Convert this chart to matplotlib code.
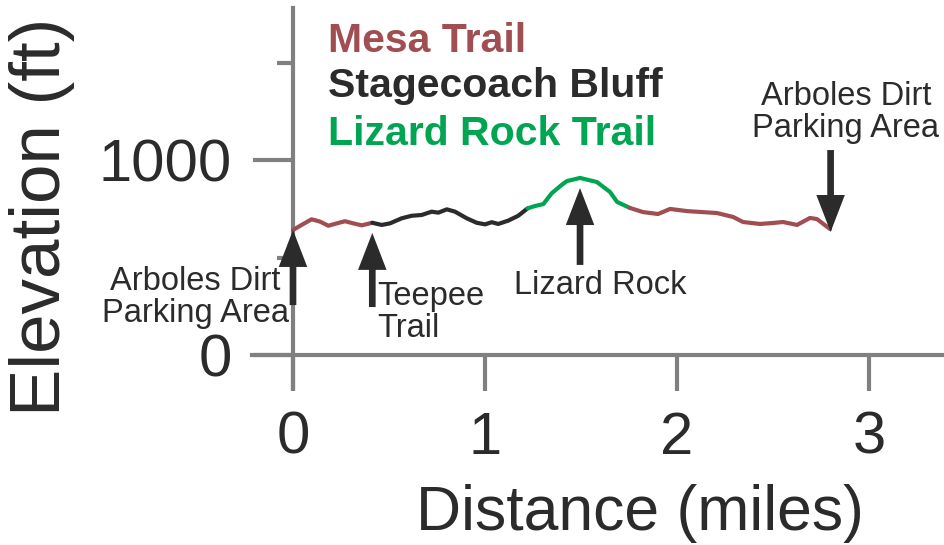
import matplotlib
matplotlib.use("Agg")
import matplotlib.pyplot as plt
from matplotlib.ticker import FixedLocator

plt.rcParams['font.family'] = ['Liberation Sans', 'DejaVu Sans']

# ---------------- data (distance in miles, elevation in ft) ----------------
mesa1_x = [0.00, 0.045, 0.097, 0.141, 0.184, 0.228, 0.271, 0.314, 0.358, 0.413]
mesa1_y = [641, 667, 696, 684, 663, 675, 686, 675, 665, 678]

stage_x = [0.413, 0.462, 0.505, 0.566, 0.618, 0.670, 0.722, 0.757, 0.801, 0.844,
           0.905, 0.957, 1.000, 1.035, 1.069, 1.121, 1.173, 1.222]
stage_y = [678, 667, 675, 701, 714, 718, 735, 730, 747, 735,
           701, 678, 670, 681, 672, 689, 714, 752]

lizard_x = [1.222, 1.260, 1.304, 1.347, 1.399, 1.427, 1.495, 1.583, 1.651, 1.688, 1.755]
lizard_y = [752, 764, 774, 829, 872, 892, 908, 887, 836, 785, 754]

mesa2_x = [1.755, 1.823, 1.901, 1.964, 2.052, 2.208, 2.292, 2.344, 2.432, 2.500,
           2.552, 2.625, 2.693, 2.729, 2.797]
mesa2_y = [754, 733, 723, 749, 738, 728, 708, 682, 672, 677,
           682, 667, 703, 697, 646]

x_ticks = [0, 1, 2, 3]
y_ticks = [0, 1000]
y_minor = [500, 1500]

legend_labels = ["Mesa Trail", "Stagecoach Bluff", "Lizard Rock Trail"]

# annotations: (text, text position of last-line baseline, arrow tail, arrow tip)
ann_texts = ["Arboles Dirt\nParking Area", "Teepee\nTrail", "Lizard Rock",
             "Arboles Dirt\nParking Area"]
ann_text_xy = [(-0.51, 169), (0.4375, 92), (1.599, 313), (2.88, 1118)]
ann_tail = [(0.0, 256), (0.413, 246), (1.495, 462), (2.80, 1051)]
ann_tip = [(0.0, 641), (0.413, 626), (1.495, 856), (2.80, 631)]
ann_ha = ["center", "left", "center", "center"]

# ---------------- styling ----------------
MESA = "#a04e52"
STAGE = "#2b2b2b"
LIZ = "#00a551"
AXC = "#808080"
TXT = "#2b2b2b"

fig = plt.figure(figsize=(9.45, 5.45), dpi=100)
W, H = 945, 545
ax = fig.add_axes([252 / W, 1 - 388 / H, (945 - 252) / W, (388 - 8) / H])

ax.set_xlim((252 - 293) / 192, (945 - 293) / 192)
ax.set_ylim((355 - 388) / 0.195, (355 - 8) / 0.195)

for s in ["top", "right"]:
    ax.spines[s].set_visible(False)
for s in ["left", "bottom"]:
    ax.spines[s].set_position(("data", 0))
    ax.spines[s].set_color(AXC)
    ax.spines[s].set_linewidth(3)

ax.xaxis.set_major_locator(FixedLocator(x_ticks))
ax.yaxis.set_major_locator(FixedLocator(y_ticks))
ax.yaxis.set_minor_locator(FixedLocator(y_minor))
ax.set_xticklabels([str(v) for v in x_ticks])
ax.set_yticklabels([str(v) for v in y_ticks])

ax.tick_params(axis="x", which="major", direction="out", length=26, width=3,
               color=AXC, labelsize=43, labelcolor=TXT, pad=14)
ax.tick_params(axis="y", which="major", direction="out", length=29, width=3,
               color=AXC, labelsize=43, labelcolor=TXT, pad=15)
ax.tick_params(axis="y", which="minor", direction="out", length=11.5, width=3,
               color=AXC)

for xs, ys, c in [(mesa1_x, mesa1_y, MESA), (stage_x, stage_y, STAGE),
                  (lizard_x, lizard_y, LIZ), (mesa2_x, mesa2_y, MESA)]:
    ax.plot(xs, ys, color=c, lw=3, solid_capstyle="round",
            solid_joinstyle="round", zorder=3)

# legend as coloured text
leg_colors = [MESA, STAGE, LIZ]
leg_y = [1554, 1323, 1077]
for lab, c, yy in zip(legend_labels, leg_colors, leg_y):
    ax.text(0.182, yy, lab, color=c, fontsize=29.5, fontweight="bold",
            ha="left", va="baseline")

# annotations with arrows
for t, txy, tail, tip, ha in zip(ann_texts, ann_text_xy, ann_tail, ann_tip, ann_ha):
    ax.annotate("", xy=tip, xytext=tail,
                arrowprops=dict(arrowstyle="simple,head_length=2.66,head_width=2.05,tail_width=0.48",
                                mutation_scale=10, color=STAGE, lw=0,
                                shrinkA=0, shrinkB=0), zorder=4)
    ax.text(txy[0], txy[1], t, fontsize=23.5, color=TXT, ha=ha, va="baseline",
            linespacing=1.05, multialignment="center" if ha == "center" else "left",
            zorder=5)

ax.set_xlabel("Distance (miles)", fontsize=45, color=TXT, va="baseline")
ax.xaxis.set_label_coords(640 / W, 1 - 530 / H, transform=fig.transFigure)
ax.set_ylabel("Elevation (ft)", fontsize=51, color=TXT, va="baseline")
ax.yaxis.set_label_coords(60 / W, 1 - 217 / H, transform=fig.transFigure)

fig.savefig("out.png", dpi=100)
